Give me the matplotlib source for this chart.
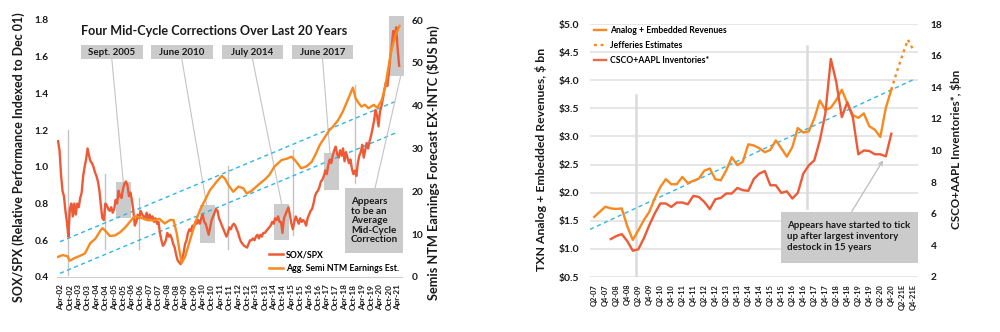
import numpy as np
import matplotlib.pyplot as plt
from matplotlib.patches import Rectangle
from matplotlib.lines import Line2D

plt.rcParams['font.family'] = ['Lato', 'DejaVu Sans']
plt.rcParams['font.weight'] = 'bold'

# ---------------- left chart data ----------------
# SOX/SPX monthly, Feb-2002 .. May-2021
sox_first = (2002, 2)
sox_spx = [
    1.14, 1.09, 0.96, 0.87, 0.84, 0.76, 0.70, 0.62, 0.77, 0.80, 0.73,             # 2002
    0.80, 0.74, 0.80, 0.78, 0.83, 0.86, 0.95, 1.00, 1.04, 1.10, 1.06, 1.03,       # 2003
    1.02, 1.00, 0.97, 0.95, 0.92, 0.87, 0.79, 0.72, 0.71, 0.80, 0.79, 0.77,       # 2004
    0.76, 0.78, 0.75, 0.77, 0.82, 0.80, 0.87, 0.84, 0.83, 0.88, 0.91, 0.92,       # 2005
    0.90, 0.84, 0.86, 0.82, 0.76, 0.68, 0.70, 0.74, 0.72, 0.76, 0.74, 0.73,       # 2006
    0.72, 0.75, 0.71, 0.74, 0.72, 0.73, 0.70, 0.72, 0.69, 0.70, 0.64, 0.60,       # 2007
    0.57, 0.58, 0.60, 0.64, 0.62, 0.63, 0.61, 0.58, 0.56, 0.52, 0.49, 0.48,       # 2008
    0.47, 0.50, 0.53, 0.58, 0.60, 0.64, 0.66, 0.65, 0.68, 0.67, 0.70, 0.69,       # 2009
    0.71, 0.69, 0.72, 0.74, 0.70, 0.69, 0.66, 0.63, 0.67, 0.71, 0.73, 0.75,       # 2010
    0.77, 0.76, 0.72, 0.70, 0.68, 0.66, 0.64, 0.62, 0.64, 0.67, 0.66, 0.68,       # 2011
    0.69, 0.68, 0.66, 0.64, 0.61, 0.59, 0.58, 0.57, 0.565, 0.56, 0.58, 0.60,      # 2012
    0.60, 0.61, 0.60, 0.62, 0.63, 0.61, 0.63, 0.62, 0.64, 0.64, 0.65, 0.66,       # 2013
    0.67, 0.68, 0.70, 0.69, 0.72, 0.71, 0.73, 0.70, 0.70, 0.64, 0.72, 0.74,       # 2014
    0.76, 0.78, 0.74, 0.69, 0.66, 0.70, 0.73, 0.71, 0.69, 0.72, 0.70, 0.71,       # 2015
    0.70, 0.68, 0.72, 0.74, 0.76, 0.77, 0.80, 0.84, 0.86, 0.87, 0.89, 0.92,       # 2016
    0.93, 0.95, 0.98, 0.96, 1.01, 1.04, 1.02, 1.06, 1.09, 1.11, 1.07, 1.05,       # 2017
    1.09, 1.06, 1.10, 1.03, 1.08, 1.05, 1.02, 1.04, 0.99, 0.96, 0.98, 0.95,       # 2018
    1.02, 1.06, 1.08, 1.12, 1.05, 1.09, 1.13, 1.10, 1.14, 1.17, 1.21, 1.25,       # 2019
    1.31, 1.28, 1.22, 1.30, 1.33, 1.37, 1.42, 1.46, 1.44, 1.51, 1.60, 1.66,       # 2020
    1.74, 1.70, 1.76, 1.64, 1.55,                                                 # 2021
]
sox_t = [sox_first[0] + (sox_first[1] - 1 + k) / 12 for k in range(len(sox_spx))]

# Agg. semi NTM earnings, $US bn (right axis)
earn_t = [2002.08, 2002.33, 2002.6, 2002.75, 2003.0, 2003.3, 2003.6, 2003.9, 2004.2, 2004.5,
          2004.6, 2004.8, 2005.0, 2005.3, 2005.6, 2005.9, 2006.2, 2006.4, 2006.65, 2006.85,
          2007.1, 2007.5, 2007.8, 2008.1, 2008.4, 2008.6, 2008.78, 2008.93, 2009.06, 2009.25,
          2009.53, 2009.81, 2010.09, 2010.38, 2010.66, 2011.04, 2011.32, 2011.5, 2011.69, 2011.97,
          2012.26, 2012.54, 2012.73, 2013.0, 2013.38, 2013.76, 2014.0, 2014.3, 2014.7, 2015.05,
          2015.25, 2015.45, 2015.8, 2016.1, 2016.4, 2016.6, 2016.85, 2017.1, 2017.4, 2017.6,
          2017.9, 2018.15, 2018.45, 2018.72, 2018.88, 2019.0, 2019.2, 2019.4, 2019.6, 2019.9,
          2020.1, 2020.35, 2020.55, 2020.7, 2020.9, 2021.1, 2021.35]
earn_v = [4.7, 5.1, 4.9, 3.8, 4.4, 4.9, 5.5, 7.9, 9.0, 11.0,
          11.4, 10.6, 9.6, 9.7, 10.5, 11.7, 13.2, 14.2, 14.0, 13.7,
          13.3, 13.2, 13.6, 12.5, 13.3, 13.3, 10.2, 6.3, 3.3, 4.7,
          8.6, 12.5, 15.6, 18.0, 20.3, 22.3, 23.6, 23.0, 21.5, 19.9,
          21.1, 20.7, 19.5, 20.1, 21.5, 22.8, 23.8, 25.8, 27.3, 27.7,
          28.1, 27.3, 25.4, 25.8, 26.9, 28.5, 30.8, 32.4, 34.3, 35.1,
          36.7, 38.6, 41.5, 44.2, 41.7, 40.9, 39.8, 40.2, 39.4, 40.2,
          39.5, 41.3, 44.4, 48.3, 53.0, 56.1, 58.6]

# trend channel (SOX/SPX units): start/end dates and values
trend_t = [2002.19, 2021.10]
trend_hi = [0.592, 1.355]
trend_lo = [0.420, 1.183]

# correction windows: (t0, t1, v0, v1, label, leader x)
corrections = [
    (2005.34, 2006.20, 0.720, 0.919, 'Sept. 2005', 2005.76),
    (2010.09, 2010.96, 0.587, 0.792, 'June 2010', 2010.47),
    (2014.29, 2015.13, 0.600, 0.800, 'July 2014', 2014.70),
    (2017.09, 2017.94, 0.874, 1.074, 'June 2017', 2017.43),
]
latest_box = (2020.76, 2021.60, 1.495, 1.820)
# peak markers: (date, low, high)
peak_marks = [(2002.66, 0.411, 1.20), (2004.73, 0.553, 0.961), (2006.65, 0.553, 0.83),
              (2011.66, 0.553, 1.005), (2015.36, 0.629, 1.092), (2018.84, 0.912, 1.446)]

left_ticks = [2002.25 + 0.5 * k for k in range(39)]
left_labels = [('Apr-' if k % 2 == 0 else 'Oct-') + '%02d' % ((2002 + k // 2) % 100) for k in range(39)]

# ---------------- right chart data ----------------
quarters = []
for yr in range(2007, 2022):
    for q in range(1, 5):
        if yr == 2007 and q == 1:
            continue
        quarters.append('Q%d-%02d%s' % (q, yr % 100, 'E' if yr == 2021 else ''))

revenues = [1.57, 1.66, 1.75, 1.72, 1.71, 1.72, 1.40, 1.16, 1.33, 1.51,
            1.66, 1.90, 2.10, 2.24, 2.15, 2.15, 2.28, 2.17, 2.21, 2.25,
            2.39, 2.43, 2.24, 2.22, 2.40, 2.63, 2.49, 2.55, 2.86, 2.84,
            2.79, 2.72, 2.76, 2.93, 2.79, 2.64, 2.81, 3.15, 3.07, 3.09,
            3.32, 3.64, 3.47, 3.51, 3.65, 3.83, 3.59, 3.38, 3.33, 3.41,
            3.18, 3.12, 2.99, 3.51, 3.83]            # Q2-07 .. Q4-20
estimates = [3.83, 4.15, 4.44, 4.72, 4.54]          # Q4-20 .. Q4-21E
inventories = [4.40, 4.59, 4.71, 4.27, 3.66, 3.75, 4.44, 5.28, 6.02, 6.65,
               6.65, 6.43, 6.71, 6.71, 6.60, 7.13, 7.06, 6.75, 6.29, 6.92,
               7.00, 7.28, 7.28, 7.63, 7.49, 7.45, 8.20, 8.54, 8.70, 7.80,
               7.80, 7.32, 7.42, 6.96, 7.32, 8.54, 9.06, 9.38, 10.64, 12.32,
               15.79, 14.31, 12.11, 13.05, 12.11, 9.76, 10.00, 9.97, 9.76, 9.76,
               9.63, 11.06]                           # Q1-08 .. Q4-20
rev_trend_x = [-0.78, 58.0]
rev_trend_y = [1.347, 4.01]
right_marks = [(7.58, 0.52, 3.745), (38.6, 1.72, 4.60)]

# ---------------- styling ----------------
RED = '#EF5A36'
ORANGE = '#F7891F'
BLUE = '#2DB6E8'
GREYBOX = '#CBCBCB'
GREYLINE = '#C4C4C4'
TXT = '#1A1A1A'

W, H = 1000, 332
fig = plt.figure(figsize=(10, 3.32), dpi=100)


def fx(px):
    return px / W


def fy(py):
    return 1 - py / H


# ================= LEFT PANEL =================
ax = fig.add_axes([fx(57), fy(277), fx(402) - fx(57), fy(10) - fy(277)])
ax.set_xlim(2002.024, 2021.494)
ax.set_ylim(0.4, 1.854)
axr = ax.twinx()
axr.set_ylim(0, 62.34)

for t0, t1, v0, v1, lab, lx in corrections:
    ax.add_patch(Rectangle((t0, v0), t1 - t0, v1 - v0, color=GREYBOX, lw=0, zorder=1))
ax.add_patch(Rectangle((latest_box[0], latest_box[2]), latest_box[1] - latest_box[0],
                       latest_box[3] - latest_box[2], color=GREYBOX, lw=0, zorder=1, clip_on=False))
for t, lo, hi in peak_marks:
    ax.plot([t, t], [lo, hi], color=GREYLINE, lw=1, zorder=1.5)

ax.plot(trend_t, trend_hi, color=BLUE, lw=1, dashes=(3, 2.5), zorder=2)
ax.plot(trend_t, trend_lo, color=BLUE, lw=1, dashes=(3, 2.5), zorder=2)
ax.plot(sox_t, sox_spx, color=RED, lw=1.7, zorder=3)
axr.plot(earn_t, earn_v, color=ORANGE, lw=1.7, zorder=3)

ax.set_xticks(left_ticks)
ax.set_xticklabels(left_labels, rotation=90, fontsize=5.9, color=TXT)
ax.set_yticks(np.arange(0.4, 1.81, 0.2))
ax.set_yticklabels(['%.1f' % v for v in np.arange(0.4, 1.81, 0.2)], fontsize=7.3, color=TXT)
axr.set_yticks(np.arange(0, 61, 10))
axr.set_yticklabels([str(v) for v in range(0, 61, 10)], fontsize=7.3, color=TXT)
ax.tick_params(axis='x', length=0, pad=5)
ax.tick_params(axis='y', length=0, pad=6)
axr.tick_params(axis='y', length=0, pad=7)
for a in (ax, axr):
    for s in a.spines.values():
        s.set_visible(False)
ax.spines['bottom'].set_visible(True)
ax.spines['bottom'].set_color('#CCCCCC')
ax.set_facecolor('none')

# labels for corrections with leader lines
box_left = [81, 151, 221.7, 291.7]
for (t0, t1, v0, v1, lab, lx), bl in zip(corrections, box_left):
    fig.patches.append(Rectangle((fx(bl), fy(59.3)), fx(61.7), fy(45) - fy(59.3),
                                 transform=fig.transFigure, color=GREYBOX, lw=0, zorder=1))
    fig.text(fx(bl + 30.85), fy(52.3), lab, ha='center', va='center', fontsize=7, color=TXT)
    ax.annotate('', xy=(lx, v1), xycoords='data', xytext=(fx(bl + 30.85), fy(59.3)),
                textcoords='figure fraction',
                arrowprops=dict(arrowstyle='-', color=GREYLINE, lw=0.8, shrinkA=0, shrinkB=0),
                zorder=1.5)

fig.text(fx(81), fy(31), 'Four Mid-Cycle Corrections Over Last 20 Years', ha='left', va='center',
         fontsize=9.1, color=TXT)

# average mid-cycle correction note
fig.patches.append(Rectangle((fx(345), fy(253.3)), fx(58.3), fy(188.3) - fy(253.3),
                             transform=fig.transFigure, color=GREYBOX, lw=0, zorder=1))
fig.text(fx(351), fy(220.7), 'Appears\nto be an\nAverage\nMid-Cycle\nCorrection', ha='left', va='center',
         fontsize=7.1, color=TXT, linespacing=1.08)
ax.annotate('', xy=(2021.42, latest_box[2]), xycoords='data', xytext=(fx(375), fy(188.3)),
            textcoords='figure fraction',
            arrowprops=dict(arrowstyle='-', color=GREYLINE, lw=0.8, shrinkA=0, shrinkB=0))

handles = [Line2D([], [], color=RED, lw=1.8), Line2D([], [], color=ORANGE, lw=1.8)]
axr.legend(handles, ['SOX/SPX', 'Agg. Semi NTM Earnings Est.'], loc='upper left',
           bbox_to_anchor=(fx(269), fy(250.5)), bbox_transform=fig.transFigure, frameon=False,
           fontsize=6.3, handlelength=1.55, handletextpad=0.4, labelspacing=0.55, borderpad=0,
           borderaxespad=0)

fig.text(fx(19), fy(157), 'SOX/SPX (Relative Performance Indexed to Dec 01)', rotation=90,
         ha='center', va='center', fontsize=9, color=TXT)
fig.text(fx(433), fy(163), 'Semis NTM Earnings Forecast EX-INTC ($US bn)', rotation=90,
         ha='center', va='center', fontsize=9.2, color=TXT)

# ================= RIGHT PANEL =================
bx = fig.add_axes([fx(590), fy(277), fx(918) - fx(590), fy(24) - fy(277)])
bx.set_xlim(-0.78, 58.85)
bx.set_ylim(0.5, 5.0)
bxr = bx.twinx()
bxr.set_ylim(2, 18)

bx.set_yticks(np.arange(0.5, 5.01, 0.5))
bx.set_yticklabels(['$%.1f' % v for v in np.arange(0.5, 5.01, 0.5)], fontsize=7.5, color=TXT)
bxr.set_yticks(np.arange(2, 19, 2))
bxr.set_yticklabels([str(v) for v in range(2, 19, 2)], fontsize=7.3, color=TXT)
bx.grid(axis='y', color='#E4E4E4', lw=1.3, zorder=0)
bx.set_axisbelow(True)
bx.set_xticks(range(0, len(quarters), 2))
bx.set_xticklabels(quarters[::2], rotation=90, fontsize=5.4, color=TXT)
bx.tick_params(axis='x', length=0, pad=5)
bx.tick_params(axis='y', length=0, pad=8)
bxr.tick_params(axis='y', length=0, pad=9)
for a in (bx, bxr):
    for s in a.spines.values():
        s.set_visible(False)

for xq, lo, hi in right_marks:
    bx.plot([xq, xq], [lo, hi], color='#DADADA', lw=1.8, zorder=1)

rev_x = np.arange(len(revenues))
est_x = np.arange(len(revenues) - 1, len(revenues) - 1 + len(estimates))
inv_x = np.arange(3, 3 + len(inventories))
bx.plot(rev_trend_x, rev_trend_y, color=BLUE, lw=1, dashes=(3, 2.5), zorder=2)
bx.plot(rev_x, revenues, color=ORANGE, lw=1.7, zorder=3)
bx.plot(est_x, estimates, color=ORANGE, lw=1.7, linestyle=(0, (1.2, 1.6)), zorder=3)
bxr.plot(inv_x, inventories, color=RED, lw=1.7, zorder=3)

rh = [Line2D([], [], color=ORANGE, lw=1.7),
      Line2D([], [], color=ORANGE, lw=1.7, linestyle=(0, (1.2, 1.6))),
      Line2D([], [], color='#F06A4A', lw=1.7)]
bx.legend(rh, ['Analog + Embedded Revenues', 'Jefferies Estimates', 'CSCO+AAPL Inventories*'],
          loc='upper left', bbox_to_anchor=(fx(594), fy(26)), bbox_transform=fig.transFigure,
          frameon=False, fontsize=6.2, handlelength=1.4, handletextpad=0.45, labelspacing=0.7,
          borderpad=0, borderaxespad=0)

fig.patches.append(Rectangle((fx(780.7), fy(263.3)), fx(137), fy(211.7) - fy(263.3),
                             transform=fig.transFigure, color=GREYBOX, lw=0, zorder=1))
fig.text(fx(787), fy(236.3), 'Appears have started to tick\nup after largest inventory\ndestock in 15 years',
         ha='left', va='center', fontsize=7, color=TXT, linespacing=1.3)
bxr.annotate('', xy=(52.5, 9.38), xycoords='data', xytext=(fx(851.7), fy(211.7)),
             textcoords='figure fraction',
             arrowprops=dict(arrowstyle='->', color='#BDBDBD', lw=0.9, shrinkA=0, shrinkB=0,
                             mutation_scale=7))

fig.text(fx(541), fy(159), 'TXN Analog + Embedded Revenues, $ bn', rotation=90,
         ha='center', va='center', fontsize=8.8, color=TXT)
fig.text(fx(956), fy(149), 'CSCO+AAPL Inventories*, $bn', rotation=90,
         ha='center', va='center', fontsize=8.4, color=TXT)

fig.savefig('out.png', dpi=100)
